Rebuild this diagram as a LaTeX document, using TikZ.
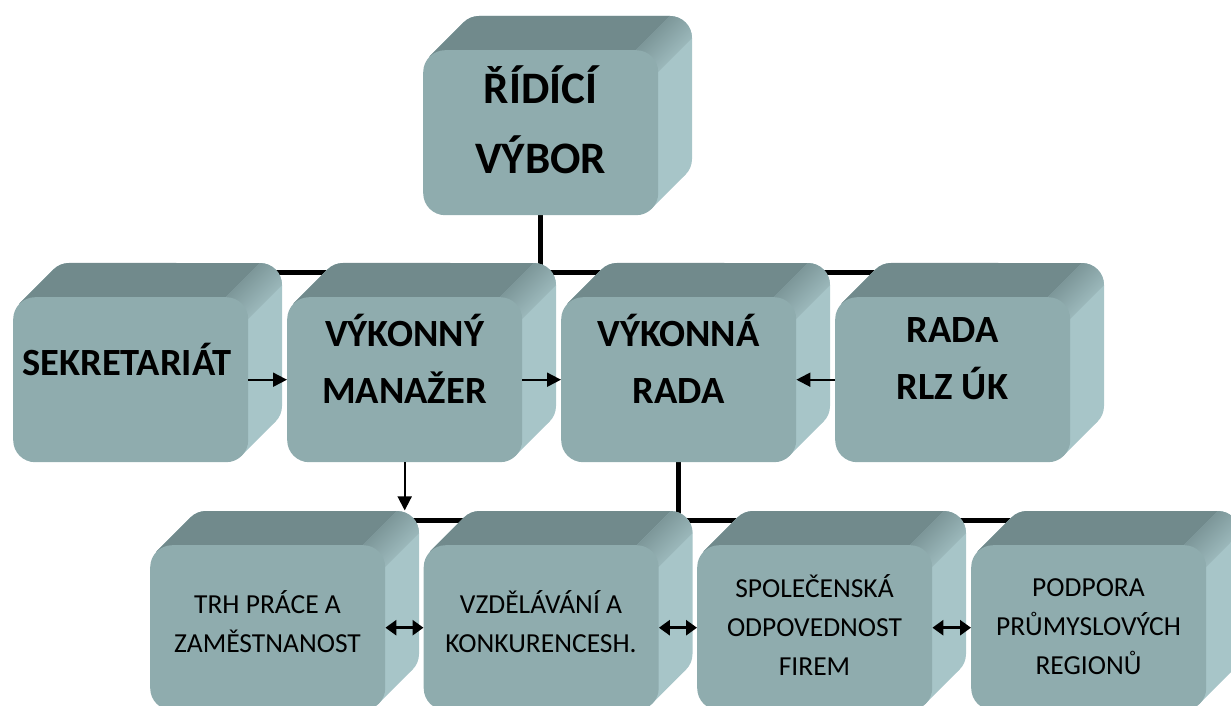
\documentclass[tikz,border=0pt]{standalone}
\usepackage{fontspec}
\setmainfont{Carlito}
\usetikzlibrary{arrows.meta,calc}
\definecolor{frontc}{HTML}{8FACAE}
\definecolor{topc}{HTML}{718A8C}
\definecolor{sidec}{HTML}{A7C5C8}
\pgfdeclarelayer{lines}
\pgfdeclarelayer{ext}
\pgfsetlayers{lines,ext,main}
\newcommand{\extr}[2]{%
  \pgfmathsetmacro\xa{#1}\pgfmathsetmacro\ya{#2}%
  \pgfmathsetmacro\xb{#1+235}\pgfmathsetmacro\yb{#2+165}%
  \fill[sidec, rounded corners=22pt] (\xa+34,\ya-34) rectangle (\xb+34,\yb-34);
  \fill[sidec] (\xa+6.44,\ya+6.44) -- (\xa+40.44,\ya-27.56) -- (\xb+27.56,\yb-40.44) -- (\xb-6.44,\yb-6.44) -- cycle;
  \fill[topc] (\xa+6.44,\ya+6.44) -- (\xa+40.44,\ya-27.56) arc[start angle=225,end angle=270,radius=22] -- (\xb+12,\ya-34) -- (\xb-22,\ya) -- (\xb-22,\ya+22) -- (\xa+22,\ya+22) -- cycle;
  \shade[top color=topc, bottom color=sidec, shading angle=45] (\xb-22,\ya) -- (\xb+12,\ya-34) arc[start angle=270,end angle=360,radius=22] -- (\xb,\ya+22) -- cycle;
}
\begin{document}
\begin{tikzpicture}[x=1pt,y=-1pt,
  front/.style={fill=frontc, rounded corners=22pt, inner sep=0pt, minimum width=235pt, minimum height=165pt, anchor=north west},
  bigtxt/.style={align=center, font=\fontsize{45}{70}\selectfont\bfseries},
  midtxt/.style={align=center, font=\fontsize{38.5}{57}\selectfont\bfseries},
  smalltxt/.style={align=center, font=\fontsize{27.5}{39}\selectfont},
  conn/.style={line width=5pt},
  arr/.style={line width=2pt, -{Triangle[length=14pt,width=14pt]}},
  dbl/.style={line width=3.5pt, {Triangle[length=11pt,width=15pt]}-{Triangle[length=11pt,width=15pt]}}]
\useasboundingbox (0,0) rectangle (1231,706);
\clip (0,0) rectangle (1231,706);
% front faces (named nodes)
\node[front] (rv) at (423,50) {};
\node[front] (sek) at (13,297) {};
\node[front] (vm) at (287,297) {};
\node[front] (vr) at (561,297) {};
\node[front] (rlz) at (835,297) {};
\node[front] (trh) at (150,545) {};
\node[front] (vzd) at (423.5,545) {};
\node[front] (spo) at (697,545) {};
\node[front] (pod) at (971,545) {};
% extrusions
\begin{pgfonlayer}{ext}
\extr{423}{50}
\extr{13}{297}
\extr{287}{297}
\extr{561}{297}
\extr{835}{297}
\extr{150}{545}
\extr{423.5}{545}
\extr{697}{545}
\extr{971}{545}
\end{pgfonlayer}
% texts
\node[bigtxt] (rv-t) at (540.5,120) {ŘÍDÍCÍ\\VÝBOR};
\node[midtxt] (sek-t) at (127,359) {SEKRETARIÁT};
\node[midtxt] (vm-t) at (404.5,359) {VÝKONNÝ\\MANAŽER};
\node[midtxt] (vr-t) at (678.5,359) {VÝKONNÁ\\RADA};
\node[midtxt] (rlz-t) at (952.5,359) {RADA\\RLZ ÚK};
\node[smalltxt] (trh-t) at (267.5,621.5) {TRH PRÁCE A\\ZAMĚSTNANOST};
\node[smalltxt] (vzd-t) at (541,621.5) {VZDĚLÁVÁNÍ A\\KONKURENCESH.};
\node[smalltxt] (spo-t) at (814.5,625.5) {SPOLEČENSKÁ\\ODPOVEDNOST\\FIREM};
\node[smalltxt] (pod-t) at (1088.5,626.5) {PODPORA\\PRŮMYSLOVÝCH\\REGIONŮ};
% connector lines behind boxes
\coordinate (hL) at ($(sek.north)+(0,-25)$);
\coordinate (hR) at ($(rlz.north)+(0,-25)$);
\coordinate (bL) at ($(trh.north)+(0,-25)$);
\coordinate (bR) at ($(pod.north)+(0,-25)$);
\coordinate (mt) at ($(vm.south)+(0,48)$);
\begin{pgfonlayer}{lines}
\draw[conn] (hL) -- (hR);
\draw[conn] (rv.south) -- (rv.south |- hL);
\draw[conn] (bL) -- (bR);
\draw[conn] (vr.south) -- (vr.south |- bL);
\end{pgfonlayer}
% arrows
\draw[arr] (vm.south) -- (mt);
\draw[arr] (sek.east) -- (vm.west);
\draw[arr] (vm.east) -- (vr.west);
\draw[arr] (rlz.west) -- (vr.east);
\draw[dbl] (trh.east) -- (vzd.west);
\draw[dbl] (vzd.east) -- (spo.west);
\draw[dbl] (spo.east) -- (pod.west);
\end{tikzpicture}
\end{document}
